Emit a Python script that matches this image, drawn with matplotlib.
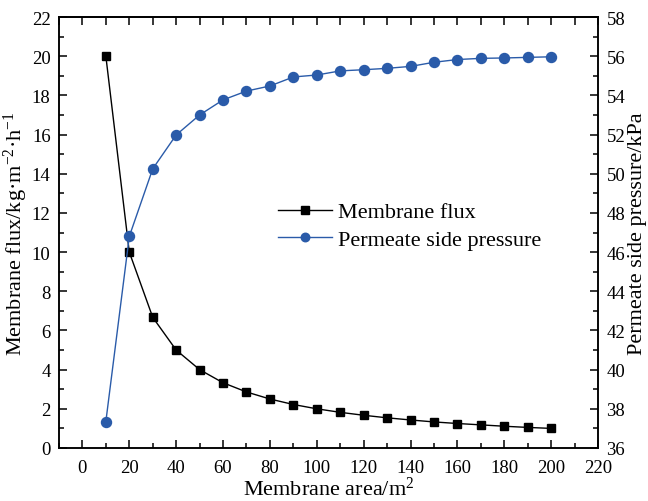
import matplotlib
matplotlib.use("Agg")
import matplotlib.pyplot as plt
from matplotlib.ticker import MultipleLocator, NullFormatter

plt.rcParams["font.family"] = ["Liberation Serif", "DejaVu Serif"]
plt.rcParams["mathtext.fontset"] = "custom"
plt.rcParams["mathtext.rm"] = "Liberation Serif"
plt.rcParams["mathtext.it"] = "Liberation Serif:italic"

# Membrane area (m^2)
area = [10, 20, 30, 40, 50, 60, 70, 80, 90, 100,
        110, 120, 130, 140, 150, 160, 170, 180, 190, 200]
# Membrane flux (kg·m^-2·h^-1)
flux = [20.0, 10.0, 6.67, 5.0, 4.0, 3.33, 2.86, 2.5, 2.22, 2.0,
        1.82, 1.67, 1.54, 1.43, 1.33, 1.25, 1.18, 1.11, 1.05, 1.0]
# Permeate side pressure (kPa)
pressure = [37.35, 46.8, 50.25, 51.98, 53.0, 53.77, 54.22, 54.48, 54.94, 55.04,
            55.25, 55.31, 55.38, 55.48, 55.69, 55.83, 55.89, 55.91, 55.94, 55.97]

x_ticks = list(range(0, 221, 20))
flux_ticks = list(range(0, 23, 2))
pressure_ticks = list(range(36, 59, 2))

blue = "#2a5ba9"
fig = plt.figure(figsize=(6.48, 5.02), dpi=100)
ax = fig.add_axes([0.091, 0.1056, 0.832, 0.8585])
ax2 = ax.twinx()

l1, = ax.plot(area, flux, color="black", lw=1.0, marker="s", ms=6.2,
              label="Membrane flux")
l2, = ax2.plot(area, pressure, color=blue, lw=1.0, marker="o", ms=7.2,
               label="Permeate side pressure")

ax.set_xlim(-10, 220)
ax.set_ylim(0, 22)
ax2.set_ylim(36, 58)
ax.set_xticks(x_ticks)
ax.set_yticks(flux_ticks)
ax2.set_yticks(pressure_ticks)
ax.xaxis.set_minor_locator(MultipleLocator(10))
ax.yaxis.set_minor_locator(MultipleLocator(1))
ax2.yaxis.set_minor_locator(MultipleLocator(1))

for a in (ax, ax2):
    for s in a.spines.values():
        s.set_linewidth(1.1)

ax.tick_params(which="both", direction="in", width=1.1, labelsize=13.5,
               top=False, right=False, pad=6)
ax.tick_params(axis="x", which="both", pad=8)
ax.tick_params(which="major", length=6)
ax.tick_params(which="minor", length=3.3)
ax2.tick_params(which="both", direction="in", width=1.1, labelsize=13.5, pad=6)
ax2.tick_params(which="major", length=6)
ax2.tick_params(which="minor", length=3.3)

# top edge: unlabelled ticks every 10 units, all the same length
top = ax.secondary_xaxis("top")
top.xaxis.set_major_locator(MultipleLocator(10))
top.xaxis.set_major_formatter(NullFormatter())
top.tick_params(direction="in", length=6, width=1.1)
top.spines["top"].set_linewidth(1.1)

ax.set_xlabel("Membrane area/m$^2$", fontsize=16, labelpad=0.5)
ax.set_ylabel("Membrane flux/kg·m$^{-2}$·h$^{-1}$", fontsize=16, labelpad=1)
ax2.set_ylabel("Permeate side pressure/kPa", fontsize=16, labelpad=2)

ax2.legend(handles=[l1, l2], loc="upper left", bbox_to_anchor=(0.406, 0.571),
           frameon=False, fontsize=16, handlelength=2.45, handletextpad=0.27,
           borderaxespad=0, borderpad=0, labelspacing=0.3, markerscale=0.85)

fig.savefig("out.png", dpi=100)
